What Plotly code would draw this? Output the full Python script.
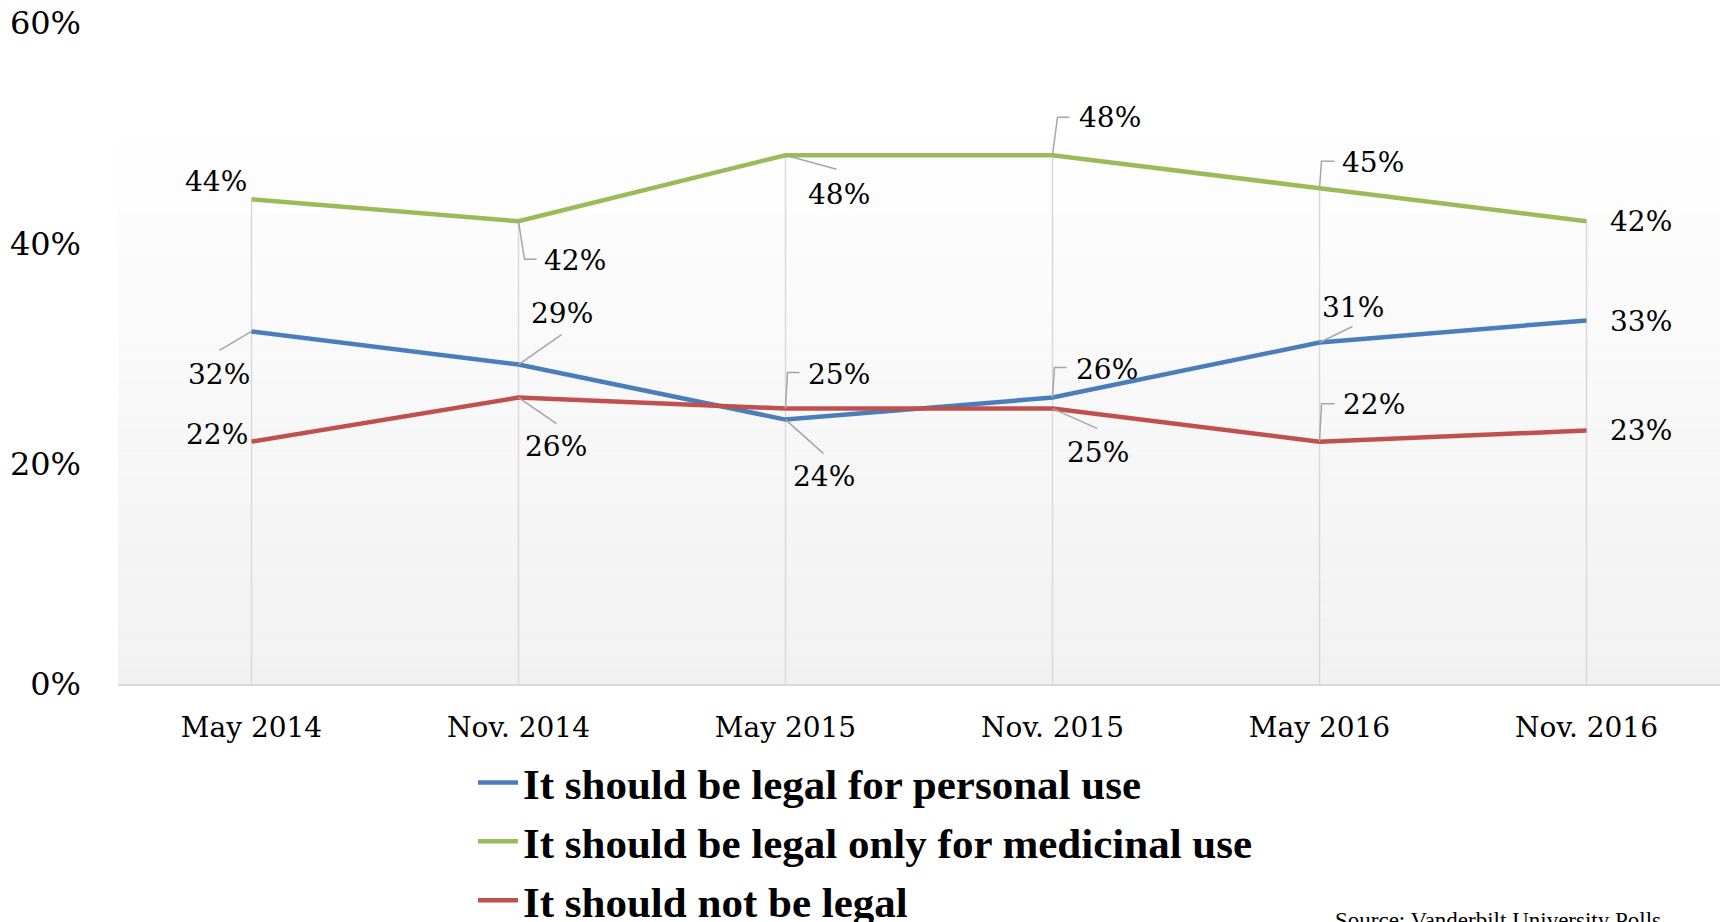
import plotly.graph_objects as go

# ---------------- data ----------------
categories = ["May 2014", "Nov. 2014", "May 2015", "Nov. 2015", "May 2016", "Nov. 2016"]
personal = [32, 29, 24, 26, 31, 33]
medicinal = [44, 42, 48, 48, 45, 42]
not_legal = [22, 26, 25, 25, 22, 23]
series_names = [
    "It should be legal for personal use",
    "It should be legal only for medicinal use",
    "It should not be legal",
]
y_ticks = [0, 20, 40, 60]
source_text = "Source: Vanderbilt University Polls"

# ---------------- style ----------------
colors = ["#4a7ebb", "#9bbb59", "#c0504d"]
W, H = 1723, 922
ML, MR, MT, MB = 118, 3, 23, 238
PH = H - MT - MB

# label offsets (screen px, +y down) and leader paths per series
label_offsets = [
    [(-33, 43), (43, -51), (38, 57), (54, -28), (33, -35), (54, 1)],
    [(-36, -18), (56, 39), (53, 39), (57, -38), (53, -26), (54, 0)],
    [(-35, -7), (37, 49), (53, -34), (45, 44), (54, -37), (54, 0)],
]
leaders = [
    [[(-32, 19)], [(43, -30)], [(38, 34)], [(2, -30), (14, -30)], [(33, -16)], None],
    [None, [(6, 38), (18, 38)], [(51, 14)], [(5, -38), (17, -38)], [(2, -27), (15, -27)], None],
    [None, [(38, 26)], [(2, -36), (14, -36)], [(45, 20)], [(2, -38), (15, -38)], None],
]

series = [personal, medicinal, not_legal]

fig = go.Figure()

# gradient plot background (stepped bands)
n_steps = 60
top_frac = 0.872
for i in range(n_steps):
    f0 = top_frac * i / n_steps
    f1 = top_frac * (i + 1) / n_steps
    t = i / (n_steps - 1)
    g = int(round(0xF1 + (0xFF - 0xF1) * t))
    fig.add_shape(type="rect", xref="paper", yref="paper", x0=0, x1=1, y0=f0, y1=f1,
                  fillcolor=f"rgb({g},{g},{g})", line=dict(width=0), layer="below")

# drop lines from highest point to axis
dx, dy = [], []
for i, c in enumerate(categories):
    top = max(s[i] for s in series)
    dx += [c, c, None]
    dy += [0, top, None]
fig.add_trace(go.Scatter(x=dx, y=dy, mode="lines", line=dict(color="#d9d9d9", width=1.5),
                         showlegend=False, hoverinfo="skip"))

for k, (s, name, col) in enumerate(zip(series, series_names, colors)):
    fig.add_trace(go.Scatter(x=categories, y=s, mode="lines", name=name,
                             line=dict(color=col, width=4.5), legendgroup=str(k)))

# data labels and leader lines
for k, s in enumerate(series):
    for i, v in enumerate(s):
        ox, oy = label_offsets[k][i]
        fig.add_annotation(x=categories[i], y=v, xref="x", yref="y", text=f"{v}%",
                           showarrow=False, xshift=ox, yshift=-oy,
                           xanchor="center", yanchor="middle",
                           font=dict(family="DejaVu Serif", size=28, color="#000"))
        lp = leaders[k][i]
        if lp:
            path = "M 0,0 " + " ".join(f"L {px},{-py}" for px, py in lp)
            fig.add_shape(type="path", xref="x", yref="y", xsizemode="pixel", ysizemode="pixel",
                          xanchor=categories[i], yanchor=v, path=path,
                          line=dict(color="#a6a6a6", width=1.5))

fig.add_annotation(xref="paper", yref="paper", x=(1333 - ML) / (W - ML - MR), y=(H - MB - 906) / PH,
                   xanchor="left", yanchor="top", showarrow=False, text=source_text,
                   font=dict(family="Liberation Serif", size=23, color="#000"))

fig.update_layout(
    width=W, height=H,
    margin=dict(l=ML, r=MR, t=MT, b=MB, pad=0, autoexpand=False),
    paper_bgcolor="white", plot_bgcolor="rgba(0,0,0,0)",
    showlegend=True,
    legend=dict(orientation="v", x=(473 - ML) / (W - ML - MR), xanchor="left",
                y=(H - MB - 748) / PH, yanchor="top",
                font=dict(family="Liberation Serif", size=43, color="#000", weight="bold"),
                tracegroupgap=0, itemwidth=40, bgcolor="rgba(0,0,0,0)"),
    xaxis=dict(type="category", categoryorder="array", categoryarray=categories,
               range=[-0.5, 5.5], showgrid=False, showline=True, linecolor="#d9d9d9", linewidth=2,
               ticks="", tickfont=dict(family="DejaVu Serif", size=28, color="#000"),
               ticklabelstandoff=17, zeroline=False, automargin=False),
    yaxis=dict(range=[0, 60], tickvals=y_ticks, ticktext=[f"{t}%" for t in y_ticks],
               showgrid=False, zeroline=False, showline=False, ticks="",
               tickfont=dict(family="DejaVu Serif", size=32, color="#000"),
               ticklabelstandoff=36, automargin=False),
)

fig.write_html("out.html", config={"displayModeBar": False},
               post_script="document.body.style.margin='0';document.body.style.overflow='hidden';")
